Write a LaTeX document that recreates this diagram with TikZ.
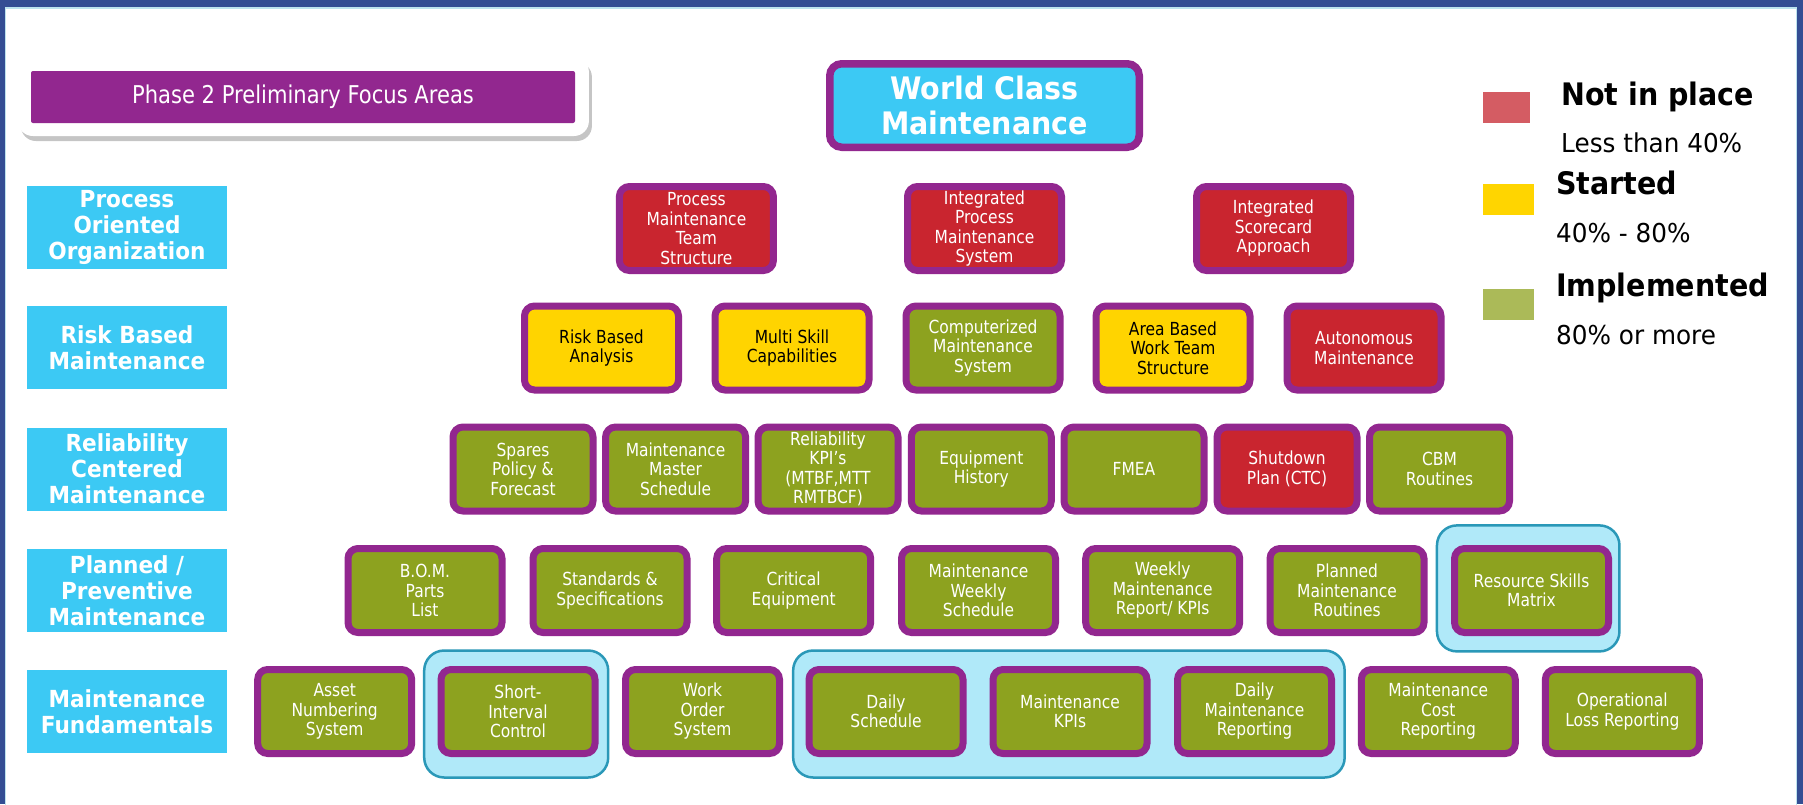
\documentclass[tikz,border=0pt]{standalone}
\usepackage{fontspec}
\usetikzlibrary{shadows}
\newfontfamily\boxfont{DejaVu Sans}[FakeStretch=0.86]
\newfontfamily\lblfont{DejaVu Sans}[FakeStretch=0.92]
\newfontfamily\legfont{DejaVu Sans}[FakeStretch=0.95]
\definecolor{frame}{HTML}{92278F}
\definecolor{cred}{HTML}{C9252F}
\definecolor{cyel}{HTML}{FFD400}
\definecolor{cgrn}{HTML}{8DA21F}
\definecolor{ccyan}{HTML}{3CC9F4}
\definecolor{hlfill}{HTML}{B0E9F9}
\definecolor{hledge}{HTML}{2A98B8}
\definecolor{lgred}{HTML}{D45C63}
\definecolor{lgyel}{HTML}{FFD500}
\definecolor{lggrn}{HTML}{ABBA58}
\definecolor{bordblue}{HTML}{344D93}
\definecolor{bordlight}{HTML}{BDE3EE}
\tikzset{
  fbox/.style={draw=frame, line width=7pt, rounded corners=10pt, minimum width=154pt,
    minimum height=84pt, inner sep=0pt, align=center,
    font=\boxfont\fontsize{18}{19.5}\selectfont, text=white},
  rbox/.style={fbox, fill=cred},
  ybox/.style={fbox, fill=cyel, text=black},
  gbox/.style={fbox, fill=cgrn},
  narrow/.style={minimum width=140pt},
  cat/.style={fill=ccyan, minimum width=200pt, minimum height=83pt, inner sep=0pt,
    align=center, text=white, font=\lblfont\bfseries\fontsize{23.5}{26}\selectfont},
  hl/.style={fill=hlfill, draw=hledge, line width=2.5pt, rounded corners=20pt, inner sep=0pt},
  legsq/.style={inner sep=0pt, minimum height=31pt},
  leghead/.style={anchor=base west, inner sep=0pt, font=\lblfont\bfseries\fontsize{31}{35}\selectfont},
  legsub/.style={anchor=base west, inner sep=0pt, font=\legfont\fontsize{26}{30}\selectfont},
}
\begin{document}
\begin{tikzpicture}[x=1pt,y=-1pt]
\useasboundingbox (0,0) rectangle (1803,804);
% frame
\fill[bordblue] (0,0) rectangle (1803,804);
\draw[bordlight, line width=1.5pt, fill=white] (5.5,8) rectangle (1796.5,815);

% phase 2 label
\node[fill=white, rounded corners=15pt, minimum width=571pt, minimum height=79pt, inner sep=0pt,
  drop shadow={shadow xshift=3pt, shadow yshift=-5pt, opacity=0.45}] (phase) at (303.4,96.5) {};
\node[fill=frame, rounded corners=2pt, minimum width=544pt, minimum height=52pt, inner sep=0pt,
  text=white, font=\boxfont\fontsize{24.5}{28}\selectfont] (phasebar) at (303,97) {Phase 2 Preliminary Focus Areas};

% title
\node[draw=frame, line width=7.5pt, fill=ccyan, rounded corners=12pt, minimum width=309.5pt,
  minimum height=83.5pt, inner sep=0pt, align=center, text=white,
  font=\lblfont\bfseries\fontsize{31}{35}\selectfont] (title) at (984.5,105.5) {World Class\\Maintenance};

% legend
\node[legsq, fill=lgred, minimum width=47pt] (sqred) at (1506.5,107) {};
\node[legsq, fill=lgyel, minimum width=51pt] (sqyel) at (1508.5,199.5) {};
\node[legsq, fill=lggrn, minimum width=51pt] (sqgrn) at (1508.5,304.5) {};
\node[leghead] (lgh1) at (1561,105) {Not in place};
\node[legsub] (lgs1) at (1561,152.7) {Less than 40\%};
\node[leghead] (lgh2) at (1556,194) {Started};
\node[legsub] (lgs2) at (1556,242.7) {40\% - 80\%};
\node[leghead] (lgh3) at (1556,296.7) {Implemented};
\node[legsub] (lgs3) at (1556,344) {80\% or more};

% category labels
\node[cat] (c1) at (127,227.5) {Process\\Oriented\\Organization};
\node[cat] (c2) at (127,347.7) {Risk Based\\Maintenance};
\node[cat] (c3) at (127,469) {Reliability\\Centered\\Maintenance};
\node[cat] (c4) at (127,590.5) {Planned /\\Preventive\\Maintenance};
\node[cat] (c5) at (127,711.4) {Maintenance\\Fundamentals};

% highlights
\node[hl, minimum width=184pt, minimum height=127pt] (hl1) at (516.2,714) {};
\node[hl, minimum width=551.5pt, minimum height=127pt] (hl2) at (1068.9,714) {};
\node[hl, minimum width=182.5pt, minimum height=126pt] (hl3) at (1528.2,588.4) {};

% row 1
\node[rbox] (r1a) at (696.4,228.5) {Process\\Maintenance\\Team\\Structure};
\node[rbox] (r1b) at (984.5,228.5) {Integrated\\Process\\Maintenance\\System};
\node[rbox] (r1c) at (1273.5,228.5) {Integrated\\Scorecard\\Approach};

% row 2
\node[ybox] (r2a) at (601.5,348) {Risk Based\\Analysis};
\node[ybox] (r2b) at (792,348) {Multi Skill\\Capabilities};
\node[gbox] (r2c) at (983,348) {Computerized\\Maintenance\\System};
\node[ybox] (r2d) at (1173,348) {Area Based\\Work Team\\Structure};
\node[rbox] (r2e) at (1364,348) {Autonomous\\Maintenance};

% row 3
\node[gbox, narrow] (r3a) at (523,469) {Spares\\Policy \&\\Forecast};
\node[gbox, narrow] (r3b) at (675.6,469) {Maintenance\\Master\\Schedule};
\node[gbox, narrow] (r3c) at (828,469) {Reliability\\KPI’s\\(MTBF,MTT\\RMTBCF)};
\node[gbox, narrow] (r3d) at (981.3,469) {Equipment\\History};
\node[gbox, narrow] (r3e) at (1134,469) {FMEA};
\node[rbox, narrow] (r3f) at (1287,469) {Shutdown\\Plan (CTC)};
\node[gbox, narrow] (r3g) at (1439.5,469) {CBM\\Routines};

% row 4
\node[gbox] (r4a) at (425,590.5) {B.O.M.\\Parts\\List};
\node[gbox] (r4b) at (610,590.5) {Standards \&\\Specifications};
\node[gbox] (r4c) at (793.7,590.5) {Critical\\Equipment};
\node[gbox] (r4d) at (978.5,590.5) {Maintenance\\Weekly\\Schedule};
\node[gbox] (r4e) at (1162.7,590.5) {Weekly\\Maintenance\\Report/ KPIs};
\node[gbox] (r4f) at (1347,590.5) {Planned\\Maintenance\\Routines};
\node[gbox] (r4g) at (1531.5,590.5) {Resource Skills\\Matrix};

% row 5
\node[gbox] (r5a) at (334.7,711.5) {Asset\\Numbering\\System};
\node[gbox] (r5b) at (518,711.5) {Short-\\Interval\\Control};
\node[gbox] (r5c) at (702.5,711.5) {Work\\Order\\System};
\node[gbox] (r5d) at (886,711.5) {Daily\\Schedule};
\node[gbox] (r5e) at (1070,711.5) {Maintenance\\KPIs};
\node[gbox] (r5f) at (1254.5,711.5) {Daily\\Maintenance\\Reporting};
\node[gbox] (r5g) at (1438.3,711.5) {Maintenance\\Cost\\Reporting};
\node[gbox] (r5h) at (1622.3,711.5) {Operational\\Loss Reporting};
\end{tikzpicture}
\end{document}
